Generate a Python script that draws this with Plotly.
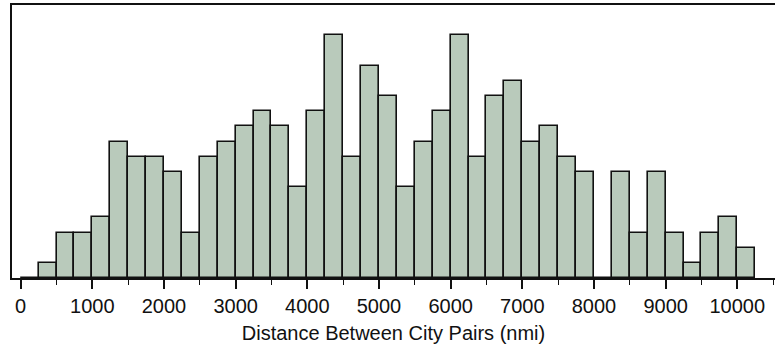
import plotly.graph_objects as go

bin_width = 250
bin_starts = [0, 250, 500, 750, 1000, 1250, 1500, 1750, 2000, 2250,
              2500, 2750, 3000, 3250, 3500, 3750, 4000, 4250, 4500, 4750,
              5000, 5250, 5500, 5750, 6000, 6250, 6500, 6750, 7000, 7250,
              7500, 7750, 8000, 8250, 8500, 8750, 9000, 9250, 9500, 9750, 10000]
counts = [0, 1, 3, 3, 4, 9, 8, 8, 7, 3,
          8, 9, 10, 11, 10, 6, 11, 16, 8, 14,
          12, 6, 9, 11, 16, 8, 12, 13, 9, 10,
          8, 7, 0, 7, 3, 7, 3, 1, 3, 4, 2]
tick_vals = [0, 1000, 2000, 3000, 4000, 5000, 6000, 7000, 8000, 9000, 10000]
tick_text = [str(v) for v in tick_vals]

fig = go.Figure(go.Bar(
    x=bin_starts, y=counts, width=bin_width, offset=0,
    marker=dict(color="#B9CABB", line=dict(color="#111111", width=1.6)),
))

fig.update_layout(
    width=775, height=345,
    margin=dict(l=12, r=0, t=5, b=67),
    paper_bgcolor="white", plot_bgcolor="white",
    showlegend=False, bargap=0,
    font=dict(family="Liberation Sans, Arial, sans-serif", size=20, color="#111111"),
)
fig.update_xaxes(
    range=[-121, 10526], tickvals=tick_vals, ticktext=tick_text,
    ticks="outside", ticklen=9, tickwidth=1.6, tickcolor="#111111",
    minor=dict(dtick=500, tick0=0, ticks="outside", ticklen=5, tickwidth=1.4, tickcolor="#111111"),
    showline=True, linecolor="#111111", linewidth=2, mirror=True,
    showgrid=False, zeroline=False,
    title=dict(text="Distance Between City Pairs (nmi)", standoff=10, font=dict(size=20)),
)
fig.update_yaxes(
    range=[0, 18], showticklabels=False, ticks="",
    showline=True, linecolor="#111111", linewidth=2, mirror=False,
    showgrid=False, zeroline=False,
)

fig.write_html("out.html")
